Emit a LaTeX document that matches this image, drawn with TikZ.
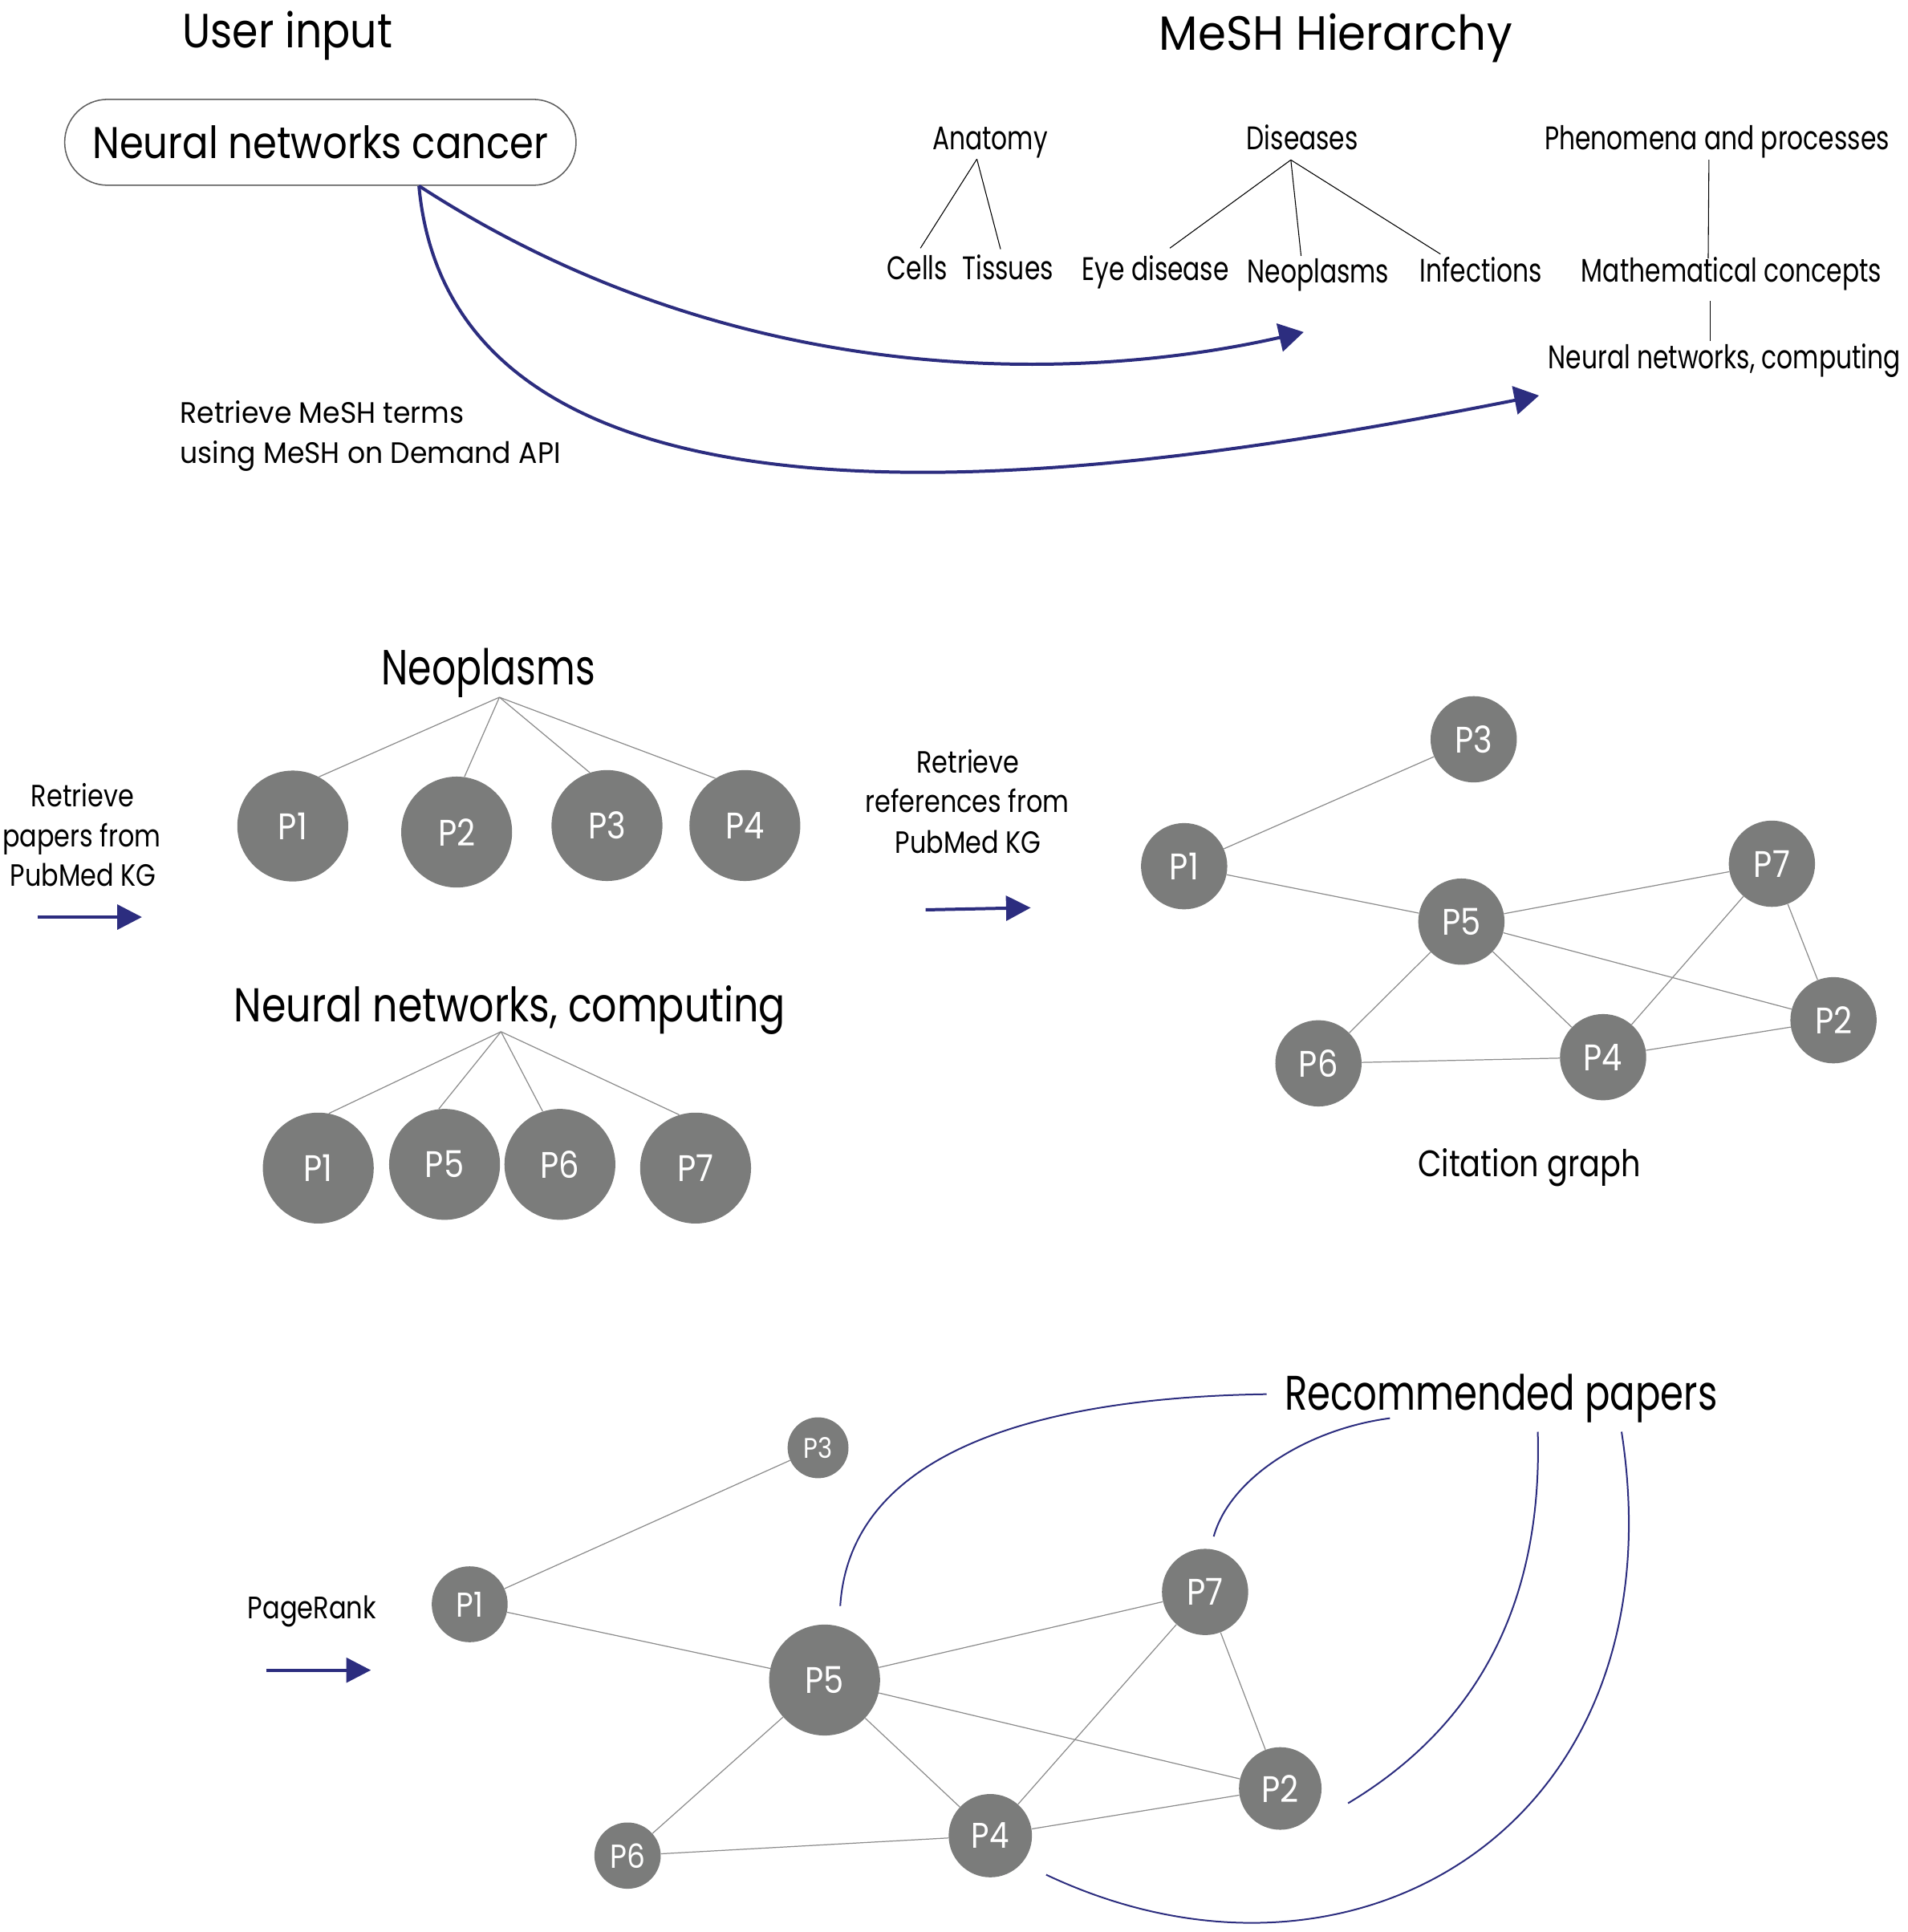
\documentclass[tikz,border=0pt]{standalone}
\usepackage{fontspec}
\setmainfont{Poppins}[FakeStretch=0.87]
\newfontfamily\fsN{Poppins}[FakeStretch=0.77]
\newfontfamily\fsM{Poppins}[FakeStretch=0.83]
\newfontfamily\fsW{Poppins}[FakeStretch=0.94]
\usetikzlibrary{arrows.meta,calc}
\definecolor{navy}{RGB}{44,45,127}
\definecolor{pgray}{RGB}{123,124,123}
\definecolor{egray}{RGB}{140,140,140}
\definecolor{bordergray}{RGB}{95,95,95}
\begin{document}
\begin{tikzpicture}[x=1pt,y=-1pt,
  ttl/.style={font=\fontsize{39}{46}\selectfont, anchor=base, inner sep=0pt},
  big/.style={font=\fsN\fontsize{40}{46}\selectfont, anchor=base, inner sep=0pt},
  tree/.style={font=\fsN\fontsize{26.5}{32}\selectfont, anchor=base, inner sep=0pt},
  desc/.style={font=\fsM\fontsize{25}{30}\selectfont, anchor=base, inner sep=0pt},
  paper/.style={circle, fill=pgray, text=white, inner sep=0pt, minimum size=#1pt, font=\fontsize{30}{36}\selectfont},
  tl/.style={draw=black, line width=0.7pt},
  edge/.style={draw=egray, line width=0.8pt},
  bigarrow/.style={draw=navy, line width=2.6pt, -{Triangle[length=20pt,width=23pt]}},
  smallarrow/.style={draw=navy, line width=2.6pt, -{Triangle[length=20pt,width=20pt]}},
  recline/.style={draw=navy, line width=1.3pt}]
\useasboundingbox (0,0) rectangle (1548,1568);

% ---------- top ----------
\node[ttl] (userinput) at (233.3,38.8) {User input};
\node[ttl, font=\fsW\fontsize{39}{46}\selectfont] (meshh) at (1084,41) {MeSH Hierarchy};
\node[draw=bordergray, line width=1pt, rounded corners=34.8pt, minimum width=415pt, minimum height=69.7pt,
      inner sep=0pt, font=\fontsize{36}{44}\selectfont] (query) at (260,115.5) {Neural networks cancer};

\node[tree] (anatomy) at (803.5,121.6) {Anatomy};
\node[tree] (diseases) at (1057,121.6) {Diseases};
\node[tree] (phen) at (1393.5,121.6) {Phenomena and processes};
\node[tree] (cells) at (744.5,227) {Cells};
\node[tree] (tissues) at (818,227) {Tissues};
\node[tree] (eye) at (937.8,227.5) {Eye disease};
\node[tree] (neo) at (1069.8,229.5) {Neoplasms};
\node[tree] (inf) at (1202,229) {Infections};
\node[tree] (math) at (1405.3,229) {Mathematical concepts};
\node[tree] (nnc) at (1399.5,299) {Neural networks, computing};

\coordinate (anaB) at (792.8,129.1);
\coordinate (cellsT) at (747,201.4);
\coordinate (tissT) at (812,202.2);
\coordinate (disB) at (1047.6,129.8);
\coordinate (eyeT) at (949.4,201.4);
\coordinate (neoT) at (1055.9,207.7);
\coordinate (infT) at (1169,206.2);
\coordinate (phenB) at (1386.9,129.6);
\coordinate (mathT) at (1386.3,209.8);
\coordinate (mathB) at (1388,244.3);
\coordinate (nncT) at (1388,276.7);
\draw[tl] (anaB) -- (cellsT);
\draw[tl] (anaB) -- (tissT);
\draw[tl] (disB) -- (eyeT);
\draw[tl] (disB) -- (neoT);
\draw[tl] (disB) -- (infT);
\draw[tl] (phenB) -- (mathT);
\draw[tl] (mathB) -- (nncT);

\coordinate (qs) at ($(query.south)+(80,0)$);
\coordinate (neoTip) at (1058,269.5);
\coordinate (nncTip) at (1249,321);
\draw[bigarrow] (qs) .. controls (600,320) and (880,310) .. (neoTip);
\draw[bigarrow] (qs) .. controls (370,480) and (950,380) .. (nncTip);

\node[desc, font=\fsW\fontsize{24}{30}\selectfont, anchor=base west] (ret1) at (146.1,343.6) {Retrieve MeSH terms};
\node[desc, font=\fsW\fontsize{24}{30}\selectfont, anchor=base west] (ret2) at (146.1,375.9) {using MeSH on Demand API};

% ---------- middle ----------
\node[big] (neotitle) at (396.4,556) {Neoplasms};
\node[big, font=\fsM\fontsize{38.5}{46}\selectfont] (nntitle) at (413.8,829.1) {Neural networks, computing};

\node[paper=90] (a1) at (237.6,670.4) {P1};
\node[paper=90] (a2) at (370.6,675.3) {P2};
\node[paper=90] (a3) at (492.6,670) {P3};
\node[paper=90] (a4) at (604.5,670) {P4};
\node[paper=90] (b1) at (258.3,948) {P1};
\node[paper=90] (b5) at (360.8,945) {P5};
\node[paper=90] (b6) at (454.4,945) {P6};
\node[paper=90] (b7) at (564.5,948) {P7};

\coordinate (neoA) at (405.3,565.9);
\coordinate (nnA) at (406.6,837.3);
\draw[edge] (neoA) -- (a1.62.8);
\draw[edge] (neoA) -- (a2.82);
\draw[edge] (neoA) -- (a3.108);
\draw[edge] (neoA) -- (a4.122);
\draw[edge] (nnA) -- (b1.79);
\draw[edge] (nnA) -- (b5.96.6);
\draw[edge] (nnA) -- (b6.108.4);
\draw[edge] (nnA) -- (b7.107.4);

\node[desc] (rp1) at (67,654.5) {Retrieve};
\node[desc] (rp2) at (66.3,687.2) {papers from};
\node[desc] (rp3) at (67.5,718.9) {PubMed KG};
\coordinate (pa0) at (30.5,744.3);
\coordinate (pa1) at (115.2,744.3);
\draw[smallarrow] (pa0) -- (pa1);

\node[desc] (rr1) at (785.5,627.1) {Retrieve};
\node[desc] (rr2) at (784.9,659.6) {references from};
\node[desc] (rr3) at (785.7,692.2) {PubMed KG};
\coordinate (ra0) at (751.2,738.4);
\coordinate (ra1) at (836.5,736.7);
\draw[smallarrow] (ra0) -- (ra1);

% citation graph
\node[paper=70] (c3) at (1196,600) {P3};
\node[paper=70] (c1) at (961,703) {P1};
\node[paper=70] (c7) at (1438,701) {P7};
\node[paper=70] (c5) at (1186,748) {P5};
\node[paper=70] (c2) at (1488,828) {P2};
\node[paper=70] (c6) at (1070,863) {P6};
\node[paper=70] (c4) at (1301,858) {P4};
\draw[edge] (c1) -- (c3);
\draw[edge] (c1) -- (c5);
\draw[edge] (c5) -- (c7);
\draw[edge] (c5) -- (c2);
\draw[edge] (c5) -- (c6);
\draw[edge] (c5) -- (c4);
\draw[edge] (c7) -- (c4);
\draw[edge] (c7) -- (c2);
\draw[edge] (c6) -- (c4);
\draw[edge] (c4) -- (c2);
\node[desc, font=\fsM\fontsize{30}{36}\selectfont] (citlabel) at (1241,955) {Citation graph};

% ---------- bottom ----------
\node[big, font=\fsN\fontsize{39.4}{46}\selectfont] (recom) at (1218.2,1144.6) {Recommended papers};
\node[desc, font=\fsM\fontsize{25.2}{30}\selectfont] (prlabel) at (253.2,1313.4) {PageRank};
\coordinate (pr0) at (216,1355.5);
\coordinate (pr1) at (301,1355.5);
\draw[smallarrow] (pr0) -- (pr1);

\node[paper=49.4, font=\fontsize{23}{28}\selectfont] (d3) at (663.9,1175) {P3};
\node[paper=61.6, font=\fontsize{28}{32}\selectfont] (d1) at (381.2,1302) {P1};
\node[paper=90] (d5) at (669.2,1363.5) {P5};
\node[paper=70] (d7) at (978,1292) {P7};
\node[paper=67] (d2) at (1039,1451.5) {P2};
\node[paper=67.6, font=\fontsize{29}{34}\selectfont] (d4) at (803.7,1489.8) {P4};
\node[paper=53.8, font=\fontsize{27}{32}\selectfont] (d6) at (509.3,1506) {P6};
\draw[edge] (d1) -- (d3);
\draw[edge] (d1) -- (d5);
\draw[edge] (d5) -- (d7);
\draw[edge] (d5) -- (d2);
\draw[edge] (d5) -- (d6);
\draw[edge] (d5) -- (d4);
\draw[edge] (d7) -- (d4);
\draw[edge] (d7) -- (d2);
\draw[edge] (d6) -- (d4);
\draw[edge] (d4) -- (d2);

\coordinate (r1a) at (681.9,1303.4);
\coordinate (r1b) at (1028,1131.5);
\coordinate (r2a) at (985,1247);
\coordinate (r2b) at (1128,1151);
\coordinate (r3a) at (1248,1162);
\coordinate (r3b) at (1094,1463.5);
\coordinate (r4a) at (1316,1162);
\coordinate (r4b) at (849,1521.5);
\draw[recline] (r1a) .. controls (690,1175) and (850,1134) .. (r1b);
\draw[recline] (r2a) .. controls (998,1200) and (1060,1160) .. (r2b);
\draw[recline] (r3a) .. controls (1252,1300) and (1200,1400) .. (r3b);
\draw[recline] (r4a) .. controls (1365,1480) and (1100,1640) .. (r4b);
\end{tikzpicture}
\end{document}
